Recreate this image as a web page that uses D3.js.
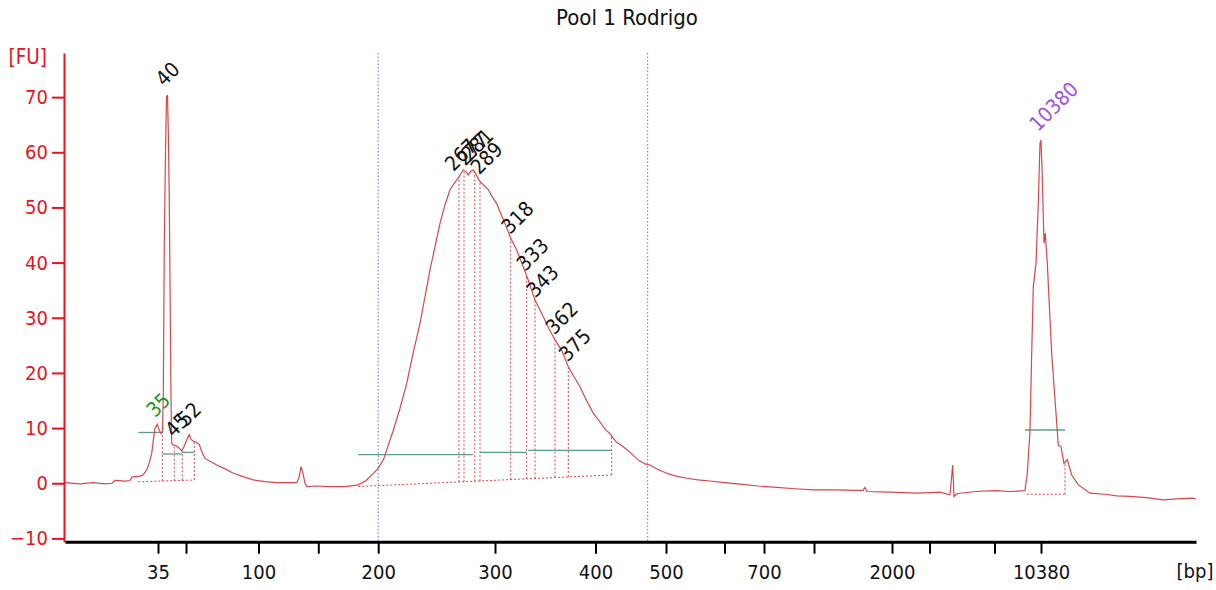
<!DOCTYPE html>
<html><head><meta charset="utf-8">
<script src="https://cdn.jsdelivr.net/npm/d3@7"></script>
<style>body{margin:0;background:#fff} svg{display:block}</style>
</head><body>
<svg id="c" width="1216" height="590"></svg>
<script>
// ---- data ----
const title = "Pool 1 Rodrigo";
const ladderBp = [35,50,100,150,200,300,400,500,600,700,1000,2000,3000,7000,10380];
const ladderTime = [29.3,32.1,39.35,45.33,51.32,63.0,73.05,80.1,85.95,89.9,94.9,102.7,106.45,112.95,117.6];
const shownBp = [35,100,200,300,400,500,700,2000,10380];
const yTicks = [-10,0,10,20,30,40,50,60,70];
const regionBp = [200,474];

const traceTime = [20.0,21.5,22.8,24.0,24.7,25.0,26.0,26.5,26.7,27.5,
27.8,28.17,28.4,28.67,28.85,29.0,29.23,29.43,29.6,29.75,
29.83,29.93,30.05,30.15,30.25,30.35,30.43,30.5,30.6,30.67,
30.8,31.1,31.4,31.67,31.9,32.2,32.43,32.6,32.83,33.2,
33.43,33.7,34.0,34.5,35.17,36.0,36.83,37.8,38.83,40.0,
41.17,42.5,43.17,43.4,43.6,43.8,44.0,44.2,45.17,46.5,
48.0,49.33,50.1,50.83,51.3,51.83,52.83,53.5,54.17,54.8,
55.5,56.5,57.5,58.0,58.5,59.0,59.33,59.6,59.83,60.1,
60.33,60.6,60.83,61.1,61.5,61.9,62.33,62.7,63.17,63.6,
64.0,64.57,65.17,65.83,66.33,67.0,67.83,68.4,69.0,69.67,
70.33,70.9,71.5,72.1,72.83,73.5,74.0,74.5,75.1,75.83,
76.5,77.33,78.0,78.5,79.3,80.17,81.1,82.17,83.3,84.5,
86.0,87.5,89.3,91.17,93.0,94.83,97.0,99.0,99.8,100.0,
100.2,102.5,105.17,106.5,107.5,108.5,108.77,108.9,109.17,111.0,
113.17,114.5,116.0,116.23,116.5,116.67,116.83,117.1,117.33,117.5,
117.6,117.73,117.9,118.03,118.23,118.67,119.1,119.33,119.6,119.9,
120.23,120.67,121.33,122.5,124.0,125.17,126.5,128.17,129.83,131.5,
132.83,133.1];
const traceFU = [0.1,-0.1,0.1,-0.1,0.0,0.5,0.4,0.5,1.1,1.3,
1.5,2.4,3.5,5.4,8.0,9.95,10.7,9.6,9.0,9.4,
16.0,43.5,60,70.0,70.4,62,50.8,36.3,15.7,7.3,
7.0,6.8,6.4,5.9,6.6,8.0,8.8,8.0,7.6,7.4,
7.0,5.6,4.5,4.0,3.3,2.6,1.8,1.2,0.6,0.3,
0.1,0.1,0.1,1.0,3.0,1.8,0.0,-0.6,-0.5,-0.6,
-0.6,-0.3,0.5,1.8,2.7,4.2,9.6,13.6,18.1,23.5,
29.0,38.7,47.1,50.5,53.2,54.6,55.3,56.2,56.8,56.5,
55.9,56.6,56.8,56.0,54.7,54.0,53.2,52.0,50.7,48.8,
47.1,44.4,42.3,39.2,36.8,33.2,30.2,28.0,26.0,24.1,
21.1,19.3,17.5,15.2,12.7,11.1,9.8,9.0,7.5,6.6,
5.6,4.2,3.5,3.3,2.5,1.8,1.3,0.9,0.6,0.4,
0.1,-0.15,-0.5,-0.75,-1.0,-1.2,-1.2,-1.3,-1.3,-0.75,
-1.5,-1.6,-1.8,-1.7,-1.6,-2.1,3.3,-2.4,-1.9,-1.5,
-1.35,-1.5,-1.35,1.8,9.6,23.5,35.6,39.9,50.7,61.6,
62.2,55.6,43.5,45.3,39.9,23.5,12.7,6.9,6.6,3.6,
4.3,1.5,-0.3,-1.8,-2.0,-2.3,-2.4,-2.6,-3.0,-2.8,
-2.7,-2.9];

const peakBp   = [35,40,45,52,267,277,281,289,318,333,343,362,375,10380];
const peakKind = ["lower","peak","peak","peak","peak","peak","peak","peak","peak","peak","peak","peak","peak","upper"];

// integration baselines: [startTime, endTime, startFU, endFU]
const baseStart = [27.33,49.33,116.17];
const baseEnd   = [32.93,74.67,120.0];
const baseFU0   = [0.27,-0.6,-2.0];
const baseFU1   = [0.58,1.5,-2.0];
// peak boundary times (group index)
const boundTime  = [29.73,30.93,31.73,32.93, 59.4,59.9,60.97,61.5,64.57,66.17,67.0,69.0,70.33,74.67, 120.0];
const boundGroup = [0,0,0,0, 1,1,1,1,1,1,1,1,1,1, 2];
// horizontal width bars: start, end, FU
const barStart = [27.33,29.73,31.73,49.33,61.5,66.33,116.0];
const barEnd   = [29.73,31.73,32.93,60.83,66.17,74.67,120.0];
const barFU    = [9.2,5.3,5.6,5.2,5.6,5.95,9.65];

// ---- drawing ----
const svg = d3.select("#c");
const FONT = "'DejaVu Sans Condensed','DejaVu Sans',sans-serif";
const x = d3.scaleLinear().domain([20,133.1]).range([65,1196]);
const y = d3.scaleLinear().domain([-10.6,78]).range([541.7,53]);
const bpToTime = d3.scaleLinear().domain(ladderBp).range(ladderTime);
const trace = traceTime.map((t,i)=>[t,traceFU[i]]);
const bis = d3.bisector(d=>d[0]).left;
function curveAt(t){
  let i = bis(trace,t);
  if(i<=0) return trace[0][1];
  if(i>=trace.length) return trace[trace.length-1][1];
  const a=trace[i-1], b=trace[i];
  return a[1]+(b[1]-a[1])*(t-a[0])/(b[0]-a[0]);
}
function baseAt(g,t){
  return baseFU0[g]+(baseFU1[g]-baseFU0[g])*(t-baseStart[g])/(baseEnd[g]-baseStart[g]);
}

const RED="#e8141c", TRACE="#d4484c";

// title
svg.append("text").attr("x",627).attr("y",25).attr("text-anchor","middle")
  .style("font-family",FONT).style("font-size","22px").attr("fill","#111").text(title);

// region markers
svg.selectAll("line.region").data(regionBp).enter().append("line")
  .attr("x1",d=>x(bpToTime(d))).attr("x2",d=>x(bpToTime(d)))
  .attr("y1",y(78)).attr("y2",y(-10.6))
  .attr("stroke","#6a6ae0").attr("stroke-width",1).attr("stroke-dasharray","1.5,2");

// baselines
svg.selectAll("line.base").data(baseStart).enter().append("line")
  .attr("x1",(d,i)=>x(baseStart[i])).attr("x2",(d,i)=>x(baseEnd[i]))
  .attr("y1",(d,i)=>y(baseFU0[i])).attr("y2",(d,i)=>y(baseFU1[i]))
  .attr("stroke",TRACE).attr("stroke-width",1).attr("stroke-dasharray","2,2");
// boundaries
svg.selectAll("line.bound").data(boundTime).enter().append("line")
  .attr("x1",d=>x(d)).attr("x2",d=>x(d))
  .attr("y1",(d,i)=>y(baseAt(boundGroup[i],d))).attr("y2",d=>y(curveAt(d)))
  .attr("stroke",TRACE).attr("stroke-width",1).attr("stroke-dasharray","2,2");
// width bars
svg.selectAll("line.bar").data(barStart).enter().append("line")
  .attr("x1",(d,i)=>x(barStart[i])).attr("x2",(d,i)=>x(barEnd[i]))
  .attr("y1",(d,i)=>y(barFU[i])).attr("y2",(d,i)=>y(barFU[i]))
  .attr("stroke","#5c9c8c").attr("stroke-width",1.3);

// trace
svg.append("path").datum(trace)
  .attr("d",d3.line().x(d=>x(d[0])).y(d=>y(d[1])))
  .attr("fill","none").attr("stroke",TRACE).attr("stroke-width",1.2);

// peak labels
const kindColor = {lower:"#1e961e", peak:"#111", upper:"#a24ee6"};
svg.selectAll("text.peak").data(peakBp).enter().append("text")
  .attr("transform",(d)=>{const t=bpToTime(d);return `translate(${x(t)-3},${y(curveAt(t))-8}) rotate(-45)`;})
  .style("font-family",FONT).style("font-size","20.5px")
  .attr("fill",(d,i)=>kindColor[peakKind[i]]).text(d=>d);

// y axis
const yAxis = svg.append("g").attr("transform","translate(64,0)")
  .call(d3.axisLeft(y).tickValues(yTicks).tickSize(12).tickSizeOuter(0).tickPadding(4));
yAxis.select(".domain").attr("stroke",RED).attr("stroke-width",2);
yAxis.selectAll(".tick line").attr("stroke",RED).attr("stroke-width",2);
yAxis.selectAll(".tick text").attr("fill",RED).style("font-family",FONT).style("font-size","20px");
svg.append("text").attr("x",47).attr("y",64).attr("text-anchor","end")
  .style("font-family",FONT).style("font-size","20.5px").attr("fill",RED).text("[FU]");

// x axis
const xAxis = svg.append("g").attr("transform",`translate(0,${y(-10.6)})`)
  .call(d3.axisBottom(x).tickValues(ladderTime).tickSize(12).tickSizeOuter(0).tickPadding(11)
    .tickFormat((d,i)=> shownBp.includes(ladderBp[i]) ? ladderBp[i] : ""));
xAxis.select(".domain").attr("stroke","#000").attr("stroke-width",3);
xAxis.selectAll(".tick line").attr("stroke","#000").attr("stroke-width",2);
xAxis.selectAll(".tick text").attr("fill","#111").style("font-family",FONT).style("font-size","20px");
svg.append("text").attr("x",1195).attr("y",578).attr("text-anchor","middle")
  .style("font-family",FONT).style("font-size","20px").attr("fill","#111").text("[bp]");
</script>
</body></html>
